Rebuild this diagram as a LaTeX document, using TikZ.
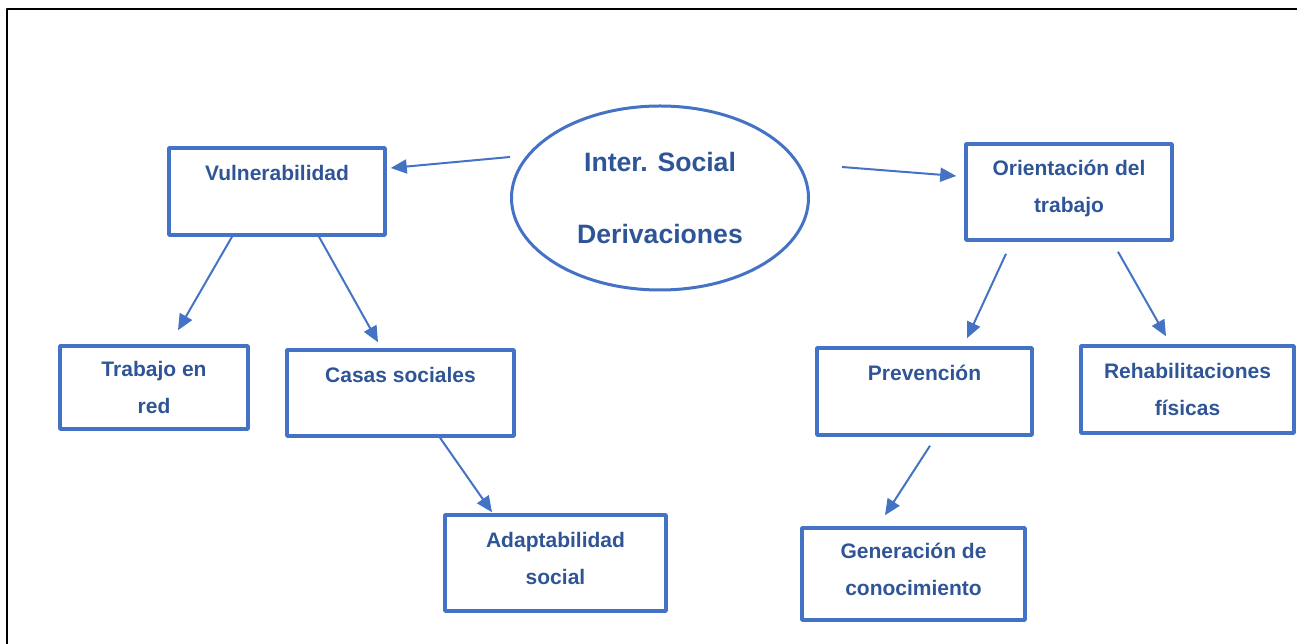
\documentclass[tikz,border=0pt]{standalone}
\usepackage{fontspec}
\setmainfont{Liberation Sans}
\usepackage{tikz}
\usetikzlibrary{arrows.meta,shapes.geometric}
\definecolor{boxblue}{HTML}{4472C4}
\definecolor{txtblue}{HTML}{2F5597}

\begin{document}
\begin{tikzpicture}[>={Triangle[length=16bp,width=14bp]},line join=bevel,
  caja/.style={draw=boxblue,line width=3.5bp,rectangle,inner sep=0pt,align=center,text=txtblue,font=\fontsize{21bp}{37bp}\selectfont\bfseries},
  elip/.style={draw=boxblue,line width=3bp,ellipse,inner sep=0pt,align=center,text=txtblue,font=\fontsize{26.6bp}{72bp}\selectfont\bfseries},
  flecha/.style={draw=boxblue,line width=2bp,->},]
%%
\useasboundingbox (0bp,0bp) rectangle (1297bp,644bp);
\draw [black,line width=2.2bp] (7bp,0bp) -- (7bp,635bp) -- (1297bp,635bp);
%
\node (intersocial) at (660bp,446bp) [elip,minimum width=297bp,minimum height=184bp] {Inter. Social\\Derivaciones};
  \node (vulnerabilidad) at (277bp,452.5bp) [caja,minimum width=216bp,minimum height=87bp] {Vulnerabilidad\\~};
  \node (orientacion) at (1069bp,452bp) [caja,minimum width=206bp,minimum height=96bp] {Orientación del\\trabajo\\[-26bp]~};
  \node (trabajoenred) at (154bp,256.5bp) [caja,minimum width=188bp,minimum height=83bp] {Trabajo en\\red};
  \node (casassociales) at (400.5bp,251bp) [caja,minimum width=227bp,minimum height=86bp] {Casas sociales\\~};
  \node (adaptabilidad) at (555.5bp,81bp) [caja,minimum width=221bp,minimum height=96bp] {Adaptabilidad\\social\\[-27bp]~};
  \node (prevencion) at (924.5bp,252.5bp) [caja,minimum width=215bp,minimum height=87bp] {Prevención\\~};
  \node (rehabilitaciones) at (1187.5bp,254.5bp) [caja,minimum width=213bp,minimum height=87bp] {Rehabilitaciones\\físicas};
  \node (generacion) at (913.5bp,70bp) [caja,minimum width=223bp,minimum height=92bp] {Generación de\\conocimiento\\[-27bp]~};
%
  \draw [flecha] ([yshift=41bp]intersocial.west) -- ([xshift=4bp,yshift=23.5bp]vulnerabilidad.east);
  \draw [flecha] ([xshift=32bp,yshift=31bp]intersocial.east) -- ([xshift=-8bp,yshift=16bp]orientacion.west);
  \draw [flecha] ([xshift=-45bp]vulnerabilidad.south) -- ([xshift=24bp,yshift=14bp]trabajoenred.north);
  \draw [flecha] ([xshift=42bp]vulnerabilidad.south) -- ([xshift=-22.5bp,yshift=6bp]casassociales.north);
  \draw [flecha] ([xshift=39.5bp]casassociales.south) -- ([xshift=-63.5bp,yshift=1bp]adaptabilidad.north);
  \draw [flecha] ([xshift=-63bp,yshift=-12bp]orientacion.south) -- ([xshift=42.5bp,yshift=8bp]prevencion.north);
  \draw [flecha] ([xshift=49bp,yshift=-10bp]orientacion.south) -- ([xshift=-21.5bp,yshift=8bp]rehabilitaciones.north);
  \draw [flecha] ([xshift=5.5bp,yshift=-9bp]prevencion.south) -- ([xshift=-28.5bp,yshift=11bp]generacion.north);
%
\end{tikzpicture}
\end{document}
